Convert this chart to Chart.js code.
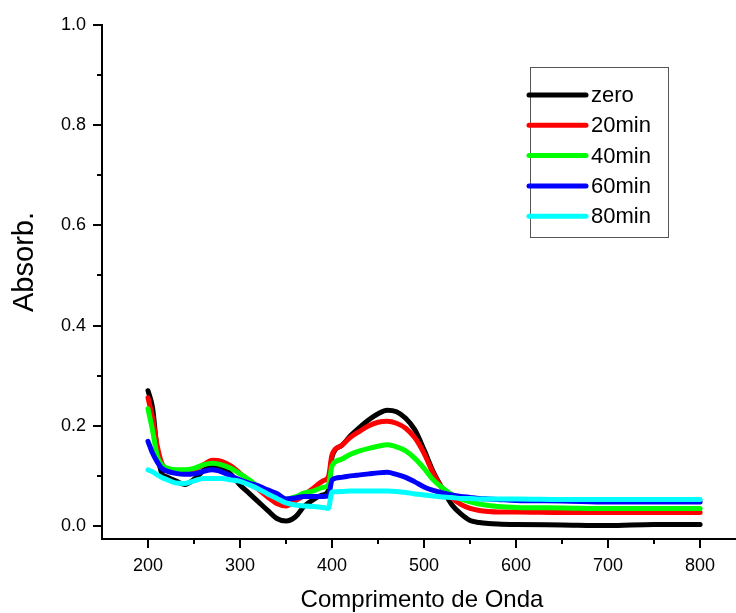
<!DOCTYPE html>
<html>
<head>
<meta charset="utf-8">
<script src="https://cdn.jsdelivr.net/npm/chart.js@4"></script>
<style>
  body { margin: 0; background: #fff; }
  #wrap { width: 736px; height: 613px; }
</style>
</head>
<body>
<div id="wrap"><canvas id="uvChart" width="736" height="613"></canvas></div>
<script>
// wavelengths (nm) shared by every series
const wavelengths = [200, 205, 210, 215, 220, 230, 240, 250, 260, 270, 280, 290, 300, 310, 320, 330, 340, 350, 360, 370, 380, 390, 396,
  400, 410, 420, 430, 440, 450, 460, 470, 480, 490, 500, 510, 520, 530, 540, 550, 560, 570, 580, 600, 650, 700, 750, 800];

const seriesLabels = ['zero', '20min', '40min', '60min', '80min'];
const seriesColors = ['#000000', '#ff0000', '#00ff00', '#0000ff', '#00ffff'];

const absZero = [0.270, 0.235, 0.150, 0.105, 0.098, 0.090, 0.083, 0.093, 0.110, 0.120, 0.118, 0.103, 0.082, 0.065, 0.048, 0.031, 0.015, 0.010, 0.018, 0.040, 0.053, 0.062, 0.070,
  0.138, 0.160, 0.180, 0.197, 0.212, 0.224, 0.231, 0.228, 0.215, 0.192, 0.152, 0.108, 0.074, 0.043, 0.024, 0.011, 0.007, 0.005, 0.004, 0.003, 0.002, 0.001, 0.003, 0.003];
const abs20 = [0.256, 0.215, 0.160, 0.125, 0.115, 0.111, 0.109, 0.113, 0.122, 0.131, 0.129, 0.120, 0.105, 0.090, 0.073, 0.058, 0.045, 0.040, 0.050, 0.062, 0.076, 0.090, 0.098,
  0.142, 0.160, 0.177, 0.189, 0.200, 0.207, 0.209, 0.205, 0.195, 0.176, 0.145, 0.105, 0.075, 0.056, 0.043, 0.035, 0.031, 0.029, 0.028, 0.028, 0.027, 0.027, 0.027, 0.027];
const abs40 = [0.234, 0.190, 0.140, 0.122, 0.116, 0.112, 0.112, 0.115, 0.122, 0.125, 0.122, 0.115, 0.104, 0.092, 0.078, 0.066, 0.056, 0.054, 0.058, 0.066, 0.070, 0.077, 0.082,
  0.120, 0.133, 0.143, 0.150, 0.155, 0.159, 0.162, 0.158, 0.150, 0.135, 0.115, 0.092, 0.076, 0.063, 0.054, 0.048, 0.044, 0.041, 0.039, 0.037, 0.036, 0.035, 0.035, 0.035];
const abs60 = [0.169, 0.145, 0.128, 0.115, 0.110, 0.105, 0.103, 0.104, 0.109, 0.112, 0.108, 0.100, 0.092, 0.085, 0.080, 0.072, 0.065, 0.054, 0.056, 0.059, 0.059, 0.059, 0.060,
  0.092, 0.097, 0.100, 0.102, 0.104, 0.106, 0.107, 0.103, 0.097, 0.088, 0.078, 0.071, 0.066, 0.062, 0.059, 0.057, 0.055, 0.054, 0.053, 0.051, 0.050, 0.048, 0.048, 0.048];
const abs80 = [0.112, 0.108, 0.102, 0.097, 0.093, 0.086, 0.085, 0.090, 0.095, 0.095, 0.095, 0.092, 0.089, 0.082, 0.074, 0.064, 0.055, 0.046, 0.042, 0.040, 0.039, 0.037, 0.035,
  0.068, 0.069, 0.070, 0.070, 0.070, 0.070, 0.070, 0.069, 0.067, 0.064, 0.062, 0.060, 0.058, 0.057, 0.055, 0.055, 0.054, 0.054, 0.054, 0.054, 0.053, 0.053, 0.053, 0.053];

const seriesValues = [absZero, abs20, abs40, abs60, abs80];

// axis ticks
const xMajorTicks = [200, 300, 400, 500, 600, 700, 800];
const xMinorTicks = [250, 350, 450, 550, 650, 750];
const yMajorTicks = [0.0, 0.2, 0.4, 0.6, 0.8, 1.0];
const yMinorTicks = [0.1, 0.3, 0.5, 0.7, 0.9];

const FONT = '"Liberation Sans", Arial, sans-serif';

// tick marks, axis titles and the boxed legend
const decorPlugin = {
    id: 'decor',
    afterDraw(chart) {
        const ctx = chart.ctx;
        const xs = chart.scales.x;
        const ys = chart.scales.y;
        const axisY = chart.chartArea.bottom;
        const axisX = chart.chartArea.left;
        ctx.save();
        ctx.strokeStyle = '#000';
        ctx.lineWidth = 2;
        ctx.beginPath();
        xMajorTicks.forEach(v => { const p = Math.round(xs.getPixelForValue(v)); ctx.moveTo(p, axisY); ctx.lineTo(p, axisY + 9); });
        xMinorTicks.forEach(v => { const p = Math.round(xs.getPixelForValue(v)); ctx.moveTo(p, axisY); ctx.lineTo(p, axisY + 5); });
        yMajorTicks.forEach(v => { const p = Math.round(ys.getPixelForValue(v)); ctx.moveTo(axisX, p); ctx.lineTo(axisX - 9, p); });
        yMinorTicks.forEach(v => { const p = Math.round(ys.getPixelForValue(v)); ctx.moveTo(axisX, p); ctx.lineTo(axisX - 5, p); });
        ctx.stroke();

        // axis titles
        ctx.fillStyle = '#000';
        ctx.textAlign = 'center';
        ctx.textBaseline = 'middle';
        ctx.font = '24px ' + FONT;
        ctx.fillText('Comprimento de Onda', 422, 600);
        ctx.save();
        ctx.translate(25, 262);
        ctx.rotate(-Math.PI / 2);
        ctx.font = '29px ' + FONT;
        ctx.fillText('Absorb.', 0, 0);
        ctx.restore();

        // legend
        ctx.strokeStyle = '#555';
        ctx.lineWidth = 1;
        ctx.strokeRect(530.5, 67.5, 138, 170);
        ctx.font = '22px ' + FONT;
        ctx.textAlign = 'left';
        chart.data.datasets.forEach((ds, i) => {
            const yy = 95 + i * 30.3;
            ctx.strokeStyle = ds.borderColor;
            ctx.lineWidth = 5;
            ctx.lineCap = 'round';
            ctx.beginPath();
            ctx.moveTo(529, yy);
            ctx.lineTo(586, yy);
            ctx.stroke();
            ctx.fillStyle = '#000';
            ctx.fillText(ds.label, 591, yy + 1);
        });
        ctx.restore();
    }
};

const datasets = seriesLabels.map((label, i) => ({
    label: label,
    data: wavelengths.map((w, j) => ({ x: w, y: seriesValues[i][j] })),
    borderColor: seriesColors[i],
    backgroundColor: seriesColors[i],
    borderWidth: 5,
    borderCapStyle: 'round',
    borderJoinStyle: 'round',
    pointRadius: 0,
    cubicInterpolationMode: 'monotone',
    order: seriesLabels.length - i
}));

new Chart(document.getElementById('uvChart'), {
    type: 'line',
    data: { datasets: datasets },
    plugins: [decorPlugin],
    options: {
        responsive: false,
        animation: false,
        layout: { padding: { top: 25, right: 0, left: 0, bottom: 0 } },
        plugins: { legend: { display: false }, tooltip: { enabled: false } },
        scales: {
            x: {
                type: 'linear',
                min: 150,
                max: 839,
                grid: { display: false },
                border: { display: true, color: '#000', width: 2 },
                afterBuildTicks: s => { s.ticks = xMajorTicks.map(v => ({ value: v })); },
                afterFit: s => { s.height = 74; },
                ticks: { color: '#000', font: { family: FONT, size: 18 }, padding: 8, maxRotation: 0 }
            },
            y: {
                min: -0.026,
                max: 1.0,
                grid: { display: false },
                border: { display: true, color: '#000', width: 2 },
                afterBuildTicks: s => { s.ticks = yMajorTicks.map(v => ({ value: v })); },
                afterFit: s => { s.width = 102; },
                ticks: { color: '#000', font: { family: FONT, size: 18 }, padding: 8, callback: v => Number(v).toFixed(1) }
            }
        }
    }
});
</script>
</body>
</html>
